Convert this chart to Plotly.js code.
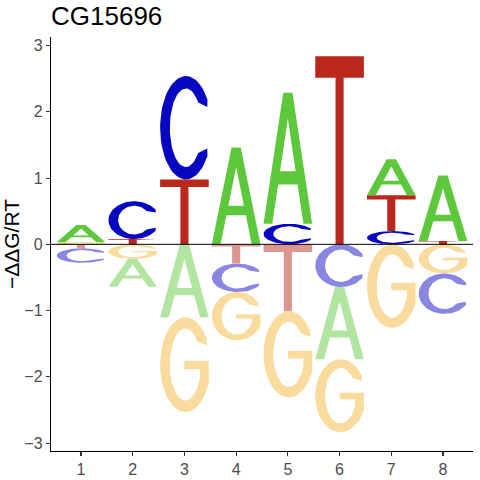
<!DOCTYPE html>
<html>
<head>
<meta charset="utf-8">
<script src="https://cdn.plot.ly/plotly-3.0.1.min.js"></script>
<style>html,body{margin:0;padding:0;background:#fff;}#chart{width:480px;height:480px;}</style>
</head>
<body>
<div id="chart"></div>
<script>
// ---- data ----
const positions = [1, 2, 3, 4, 5, 6, 7, 8];
const tickLabels = ['1', '2', '3', '4', '5', '6', '7', '8'];
const valA = [0.26, -0.42, -1.10, 1.46, 1.98, -1.09, 0.545, 0.99];
const valC = [-0.22, 0.57, 1.56, -0.43, 0.31, -0.645, 0.20, -0.61];
const valG = [0.03, -0.22, -1.43, -0.73, -1.30, -1.10, -1.26, -0.44];
const valT = [-0.06, 0.08, 0.98, -0.29, -1.01, 2.84, 0.54, 0.05];
const yTicks = [-3, -2, -1, 0, 1, 2, 3];

// ---- styles ----
const posColor = {A: '#5DC83B', C: '#0707C2', G: '#F5B53F', T: '#B9271D'};
const negColor = {A: '#B2E5A1', C: '#8A87E2', G: '#FADB9E', T: '#DC958F'};
const letterWidth = 0.94;

// ---- glyph outlines in a unit box (u: 0..1 left->right, v: 0..1 bottom->top) ----
function arc(cx, cy, rx, ry, a0, a1, n) {
  const pts = [];
  for (let i = 0; i <= n; i++) {
    const a = (a0 + (a1 - a0) * i / n) * Math.PI / 180;
    pts.push([cx + rx * Math.cos(a), cy + ry * Math.sin(a)]);
  }
  return pts;
}
const glyphs = {
  T: [[0,1],[1,1],[1,0.885],[0.583,0.885],[0.583,0],[0.417,0],[0.417,0.885],[0,0.885]],
  A: (function(){
    const lw = 0.18, s = 0.4, cb = 0.30, ct = 0.40;
    const apexV = (1 - 2*lw) / (2*s);
    return [[0,0],[0.405,1],[0.595,1],[1,0],[1-lw,0],[1-lw-s*cb,cb],[0.5,cb],[0.5,ct],
            [1-lw-s*ct,ct],[0.5,apexV],[lw+s*ct,ct],[0.5,ct],[0.5,cb],[lw+s*cb,cb],[lw,0],[0,0]];
  })(),
  C: (function(){
    let p = arc(0.53, 0.5, 0.53, 0.5, 33, 327, 60);
    p.push([0.97, 0.30]);
    p = p.concat(arc(0.53, 0.5, 0.33, 0.38, 320, 40, 60));
    p.push([0.97, 0.70]);
    p.push(p[0]);
    return p;
  })(),
  G: (function(){
    let p = arc(0.52, 0.5, 0.52, 0.5, 33, 335, 60);
    p.push([1, 0.30],[1, 0.54],[0.5, 0.54],[0.5, 0.45],[0.82, 0.45]);
    const a0 = 360 - Math.acos(0.30/0.32) * 180 / Math.PI;
    p = p.concat(arc(0.52, 0.5, 0.32, 0.38, a0, 40, 60));
    p.push([0.96, 0.70]);
    p.push(p[0]);
    return p;
  })()
};

// ---- build stacked letters ----
const series = {A: valA, C: valC, G: valG, T: valT};
const letters = ['A', 'C', 'G', 'T'];
const traces = [];
positions.forEach(function(pos, i) {
  const items = letters.map(function(L){ return {L: L, v: series[L][i]}; });
  const pos_ = items.filter(function(d){ return d.v > 0; }).sort(function(a,b){ return a.v - b.v; });
  const neg_ = items.filter(function(d){ return d.v < 0; }).sort(function(a,b){ return b.v - a.v; });
  function add(d, y0, y1, color) {
    const g = glyphs[d.L];
    const xs = [], ys = [];
    g.forEach(function(pt){
      xs.push(pos - letterWidth/2 + pt[0]*letterWidth);
      ys.push(y0 + pt[1]*(y1 - y0));
    });
    traces.push({type:'scatter', mode:'lines', x: xs, y: ys, fill:'toself',
      fillcolor: color, line:{width:0, color: color}, hoverinfo:'skip', showlegend:false});
  }
  let base = 0;
  pos_.forEach(function(d){ add(d, base, base + d.v, posColor[d.L]); base += d.v; });
  base = 0;
  neg_.forEach(function(d){ add(d, base + d.v, base, negColor[d.L]); base += d.v; });
});

const font = 'Liberation Sans, Arial, sans-serif';
const layout = {
  width: 480, height: 480,
  margin: {l: 51, r: 7, t: 37, b: 29},
  paper_bgcolor: '#fff', plot_bgcolor: '#fff',
  font: {family: font, color: '#000'},
  title: {text: 'CG15696', x: 0, xref: 'paper', xanchor: 'left',
          y: 1 - 16/480, yref: 'container', yanchor: 'middle',
          font: {family: font, size: 26, color: '#000'}},
  xaxis: {range: [0.42, 8.58], tickvals: positions, ticktext: tickLabels,
          showline: true, linecolor: '#000', linewidth: 1.2, ticks: 'outside', ticklen: 4,
          tickcolor: '#333', tickwidth: 1.1, showgrid: false, zeroline: false,
          tickfont: {family: font, size: 16, color: '#4D4D4D'}, fixedrange: true},
  yaxis: {range: [-3.12, 3.13], tickvals: yTicks,
          showline: true, linecolor: '#000', linewidth: 1.2, ticks: 'outside', ticklen: 4,
          tickcolor: '#333', tickwidth: 1.1, showgrid: false, zeroline: false,
          tickfont: {family: font, size: 16, color: '#4D4D4D'}, fixedrange: true,
          title: {text: '\u2212\u0394\u0394G/RT', font: {family: font, size: 21, color: '#000'}, standoff: 1}},
  shapes: [{type: 'line', xref: 'paper', x0: 0, x1: 1, yref: 'y', y0: 0, y1: 0,
            line: {color: '#000', width: 1}, layer: 'above'}]
};
Plotly.newPlot('chart', traces, layout, {staticPlot: true, displayModeBar: false});
</script>
</body>
</html>
